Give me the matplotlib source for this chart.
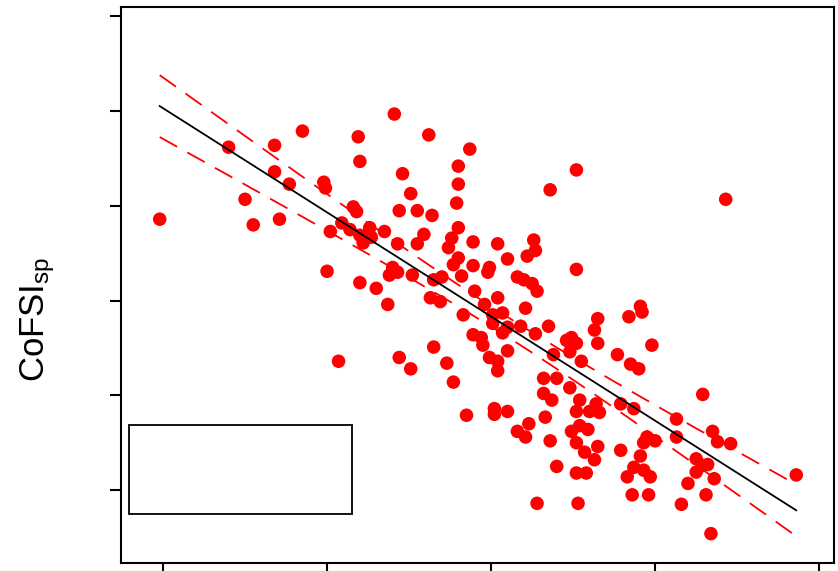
import numpy as np
import matplotlib.pyplot as plt
from matplotlib.patches import Rectangle

plt.rcParams['font.family'] = ['Liberation Sans', 'DejaVu Sans']
plt.rcParams['mathtext.default'] = 'regular'

# predictor (x) and CoFSI_sp (y)
x = [-0.02, 0.40, 0.50, 0.55, 0.68, 0.68, 0.71, 0.77, 0.85, 0.98,
     0.99, 1.00, 1.02, 1.07, 1.09, 1.14, 1.16, 1.18, 1.19, 1.20,
     1.20, 1.22, 1.20, 1.26, 1.27, 1.30, 1.35, 1.37, 1.38, 1.40,
     1.41, 1.43, 1.43, 1.44, 1.44, 1.46, 1.51, 1.51, 1.52, 1.55,
     1.55, 1.59, 1.62, 1.63, 1.64, 1.65, 1.65, 1.69, 1.70, 1.73,
     1.74, 1.76, 1.77, 1.77, 1.79, 1.80, 1.80, 1.80, 1.80, 1.82,
     1.83, 1.85, 1.87, 1.89, 1.89, 1.89, 1.90, 1.94, 1.95, 1.96,
     1.98, 1.99, 1.99, 2.01, 2.01, 2.02, 2.02, 2.04, 2.04, 2.04,
     2.04, 2.07, 2.07, 2.10, 2.10, 2.10, 2.10, 2.16, 2.16, 2.18,
     2.20, 2.21, 2.21, 2.22, 2.23, 2.25, 2.26, 2.27, 2.27, 2.28,
     2.28, 2.32, 2.32, 2.33, 2.35, 2.36, 2.36, 2.37, 2.38, 2.40,
     2.40, 2.46, 2.48, 2.48, 2.49, 2.49, 2.52, 2.52, 2.52, 2.52,
     2.52, 2.52, 2.53, 2.54, 2.54, 2.55, 2.57, 2.58, 2.59, 2.60,
     2.63, 2.63, 2.64, 2.65, 2.65, 2.65, 2.66, 2.77, 2.79, 2.79,
     2.83, 2.84, 2.85, 2.87, 2.87, 2.90, 2.91, 2.91, 2.92, 2.93,
     2.93, 2.95, 2.96, 2.97, 2.86, 2.98, 3.00, 3.13, 3.13, 3.16,
     3.20, 3.25, 3.25, 3.29, 3.29, 3.31, 3.32, 3.34, 3.35, 3.36,
     3.38, 3.43, 3.46, 3.86, 2.49]
y = [2.86, 3.62, 3.07, 2.80, 3.64, 3.36, 2.86, 3.23, 3.79, 3.25,
     3.19, 2.31, 2.73, 1.36, 2.82, 2.75, 2.99, 2.94, 3.73, 3.47,
     2.69, 2.61, 2.19, 2.77, 2.67, 2.13, 2.73, 1.96, 2.27, 2.35,
     3.97, 2.60, 2.30, 2.95, 1.40, 3.34, 3.13, 1.28, 2.27, 2.95,
     2.60, 2.70, 3.75, 2.03, 2.90, 2.22, 1.51, 1.99, 2.25, 1.34,
     2.56, 2.66, 2.38, 1.14, 3.03, 3.42, 3.23, 2.77, 2.45, 2.26,
     1.85, 0.79, 3.60, 2.62, 2.37, 1.64, 2.10, 1.61, 1.53, 1.96,
     2.30, 2.35, 1.40, 1.85, 1.76, 0.86, 0.80, 2.60, 2.03, 1.36,
     1.26, 1.87, 1.66, 2.44, 1.72, 1.47, 0.83, 2.25, 0.62, 1.73,
     2.22, 1.92, 0.56, 2.47, 0.70, 2.18, 2.64, 2.53, 1.65, 2.10,
     -0.14, 1.18, 1.02, 0.77, 1.73, 3.17, 0.52, 0.95, 1.43, 0.25,
     1.18, 1.58, 1.46, 1.08, 1.61, 0.62, 3.38, 0.83, 0.50, 1.55,
     2.33, 0.18, -0.14, 0.95, 0.68, 1.36, 0.40, 0.18, 0.64, 0.83,
     1.69, 0.32, 0.91, 1.81, 1.55, 0.46, 0.82, 1.43, 0.91, 0.42,
     0.14, 1.83, 1.33, 0.24, 0.86, 1.28, 1.94, 0.36, 1.88, 0.50,
     0.21, 0.56, -0.05, 0.14, -0.05, 1.53, 0.52, 0.75, 0.56, -0.15,
     0.07, 0.33, 0.19, 1.01, 0.26, -0.05, 0.27, -0.46, 0.62, 0.12,
     0.51, 3.07, 0.49, 0.16, 1.53]

x = np.array(x)
y = np.array(y)

# linear fit with 95% confidence band of the mean
n = len(x)
slope, intercept = np.polyfit(x, y, 1)
resid = y - (intercept + slope * x)
s = np.sqrt(np.sum(resid ** 2) / (n - 2))
xs = np.linspace(x.min(), x.max(), 200)
fit = intercept + slope * xs
se = s * np.sqrt(1 / n + (xs - x.mean()) ** 2 / np.sum((x - x.mean()) ** 2))
t = 1.97

fig = plt.figure(figsize=(8.38, 5.71), dpi=100)
ax = fig.add_axes([0.1444, 0.014, 0.8508, 0.9737])

ax.scatter(x, y, s=95, color='#ff0000', edgecolors='none', zorder=2)
ax.plot(xs, fit, color='black', lw=1.3, zorder=3)
ax.plot(xs, fit + t * se, color='#ff0000', lw=1.3, dashes=(11, 6.5), zorder=3)
ax.plot(xs, fit - t * se, color='#ff0000', lw=1.3, dashes=(11, 6.5), zorder=3)

# empty legend frame
ax.add_patch(Rectangle((0.0112, 0.088), 0.313, 0.160, transform=ax.transAxes,
                       fill=False, edgecolor='black', lw=1.3, zorder=4))

ax.set_xlim(-0.256, 4.09)
ax.set_ylim(-0.77, 5.10)
ax.set_xticks([0, 1, 2, 3, 4])
ax.set_yticks([0, 1, 2, 3, 4, 5])
ax.set_xticklabels([])
ax.set_yticklabels([])
ax.tick_params(direction='out', length=8, width=1.5, color='black')
for sp in ax.spines.values():
    sp.set_linewidth(1.5)

fig.text(0.045, 0.441, 'CoFSI$_{sp}$', rotation=90, ha='center', va='center',
         fontsize=25)

fig.savefig('out.png', dpi=100)
